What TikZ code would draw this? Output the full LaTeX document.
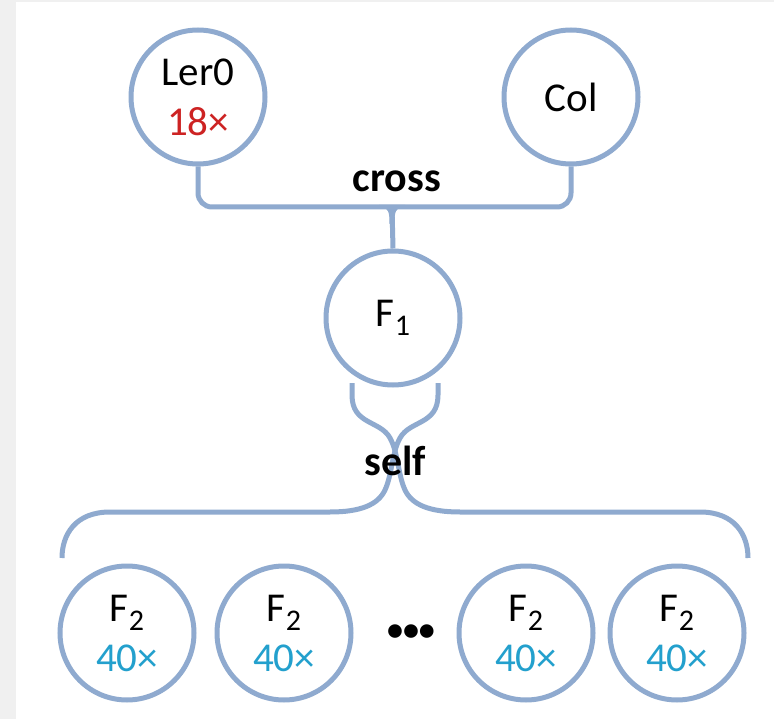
\documentclass[tikz,border=0pt]{standalone}
\usepackage{fontspec}
\setmainfont{Carlito}
\usetikzlibrary{calc}
\definecolor{linkblue}{RGB}{143,170,207}
\definecolor{countred}{RGB}{205,35,35}
\definecolor{countcyan}{RGB}{35,160,205}
\definecolor{edgegray}{RGB}{240,240,240}
\newcommand{\lowsub}[1]{\raisebox{-9pt}{\fontsize{30}{30}\selectfont #1}}
\tikzset{
  pool/.style={circle, draw=linkblue, line width=5pt, minimum size=134pt,
    inner sep=0pt, align=center, font=\fontsize{41}{52}\selectfont},
  conn/.style={draw=linkblue, line width=5pt},
  tag/.style={font=\bfseries\fontsize{42}{42}\selectfont, inner sep=0pt}
}
\begin{document}
\begin{tikzpicture}[x=1pt, y=-1pt]
  % page frame
  \useasboundingbox (0,0) rectangle (774,719);
  \fill[white] (0,0) rectangle (774,719);
  \fill[edgegray] (0,0) rectangle (16,719);
  \fill[edgegray] (0,0) rectangle (774,2);

  % parents
  \node[pool] (ler) at (198,97) {Ler0\\[-2pt]\textcolor{countred}{18×}};
  \node[pool] (col) at (571,97) {Col};
  \node[pool] (f1)  at (393,318) {F\lowsub{1}};

  % offspring
  \node[pool] (c1) at (127,633) {F\lowsub{2}\\[-2pt]\textcolor{countcyan}{40×}};
  \node[pool] (c2) at (284,633) {F\lowsub{2}\\[-2pt]\textcolor{countcyan}{40×}};
  \node[font=\bfseries\fontsize{32}{32}\selectfont, inner sep=0pt] (dots) at (411,633) {•••};
  \node[pool] (c3) at (526,633) {F\lowsub{2}\\[-2pt]\textcolor{countcyan}{40×}};
  \node[pool] (c4) at (677,633) {F\lowsub{2}\\[-2pt]\textcolor{countcyan}{40×}};

  % cross bracket
  \coordinate (jc) at (392,207);
  \draw[conn, rounded corners=14pt] (ler.south) |- (jc) -| (col.south);
  \draw[conn] (jc) -- (f1.north);
  \fill[linkblue] (379,205) .. controls (389,208) and (389.5,212) .. (389.5,224)
    -- (394.5,224) .. controls (394.5,212) and (395,208) .. (405,205) -- cycle;
  \node[tag] (cross) at (397,181) {cross};

  % self bracket
  \coordinate (sa) at (352,383);
  \coordinate (sb) at (438,383);
  \coordinate (ea) at (748,558);
  \coordinate (eb) at (62,558);
  \draw[conn] (sa) -- (352,395) .. controls (352,425) and (380,420) .. (390,438)
    .. controls (398,452) and (398,475) .. (405,490)
    .. controls (412,505) and (430,512) .. (460,512) -- (700,512)
    .. controls (735,512) and (748,535) .. (ea);
  \draw[conn] (sb) -- (438,395) .. controls (438,425) and (410,420) .. (400,438)
    .. controls (392,452) and (392,475) .. (385,490)
    .. controls (378,505) and (360,512) .. (330,512) -- (110,512)
    .. controls (75,512) and (62,535) .. (eb);
  \node[tag] (self) at (395,461) {self};
\end{tikzpicture}
\end{document}
